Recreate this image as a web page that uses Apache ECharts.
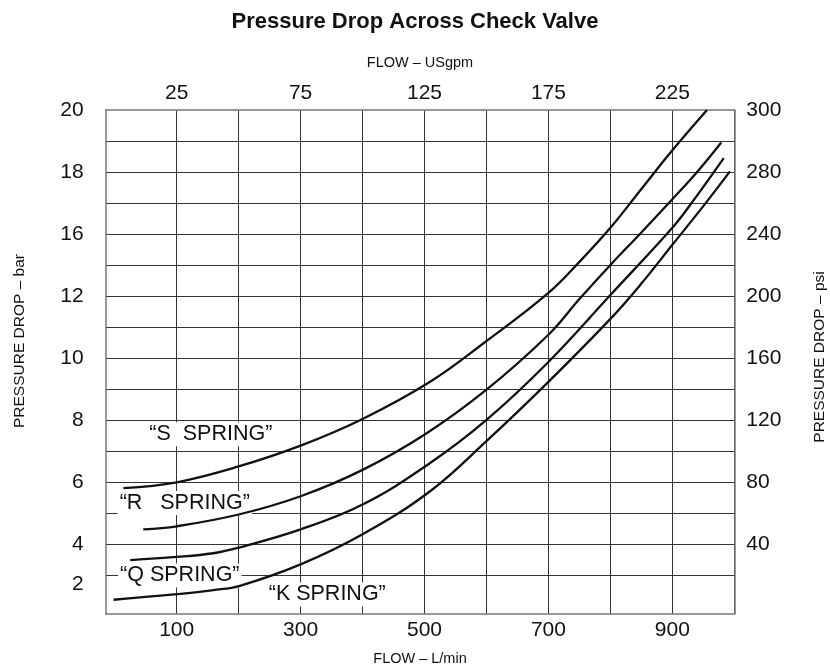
<!DOCTYPE html>
<html>
<head>
<meta charset="utf-8">
<title>Pressure Drop Across Check Valve</title>
<script src="https://cdn.jsdelivr.net/npm/echarts@6/dist/echarts.min.js"></script>
<style>
  html, body { margin: 0; padding: 0; background: #fff; }
  #chart { width: 830px; height: 671px; }
</style>
</head>
<body>
<div id="chart"></div>
<script>
// flow in L/min, pressure drop in bar (scale of the lower labels)
var flowS = [14, 100, 200, 300, 400, 509, 599, 700, 750, 800, 850, 900, 956];
var dropS = [5.8, 5.99, 6.5, 7.17, 8.03, 9.23, 10.53, 12.1, 13.1, 14.2, 15.45, 16.7, 18.0];

var flowR = [46, 100, 200, 300, 400, 501, 599, 700, 750, 800, 850, 900, 940, 979];
var dropR = [4.47, 4.57, 4.95, 5.54, 6.39, 7.54, 8.96, 10.75, 11.9, 13.0, 14.05, 15.12, 16.0, 16.95];

var flowQ = [25, 100, 159, 200, 300, 400, 509, 600, 700, 800, 900, 931, 983];
var dropQ = [3.48, 3.58, 3.7, 3.88, 4.47, 5.27, 6.61, 8.0, 9.87, 12.03, 14.2, 15.0, 16.45];

var flowK = [-2, 100, 159, 202, 300, 400, 509, 599, 700, 800, 850, 900, 950, 993];
var dropK = [2.2, 2.38, 2.51, 2.65, 3.34, 4.31, 5.7, 7.3, 9.23, 11.26, 12.4, 13.65, 14.9, 16.02];

var springNames = ['\u201cS  SPRING\u201d', '\u201cR   SPRING\u201d', '\u201cQ SPRING\u201d', '\u201cK SPRING\u201d'];

// axis ticks and labels
var flowGrid = [100, 200, 300, 400, 500, 600, 700, 800, 900, 1000];
var flowTicks = [100, 300, 500, 700, 900];
var gpmTicks = [25, 75, 125, 175, 225];
var dropGrid = [3, 4, 5, 6, 7, 8, 9, 10, 11, 12, 13, 14, 15, 16, 17];
var barTickVals = [18, 16, 14, 12, 10, 8, 6, 4, 2.7];
var barLabels = ['20', '18', '16', '12', '10', '8', '6', '4', '2'];
var psiTickVals = [18, 16, 14, 12, 10, 8, 6, 4];
var psiLabels = ['300', '280', '240', '200', '160', '120', '80', '40'];

var FONT = '"Liberation Sans", Arial, Helvetica, sans-serif';
var INK = '#111';

function pick(vals, labels) {
  return function (v) {
    for (var i = 0; i < vals.length; i++) {
      if (Math.abs(vals[i] - v) < 1e-6) return labels[i];
    }
    return '';
  };
}

function zipPts(xs, ys) {
  return xs.map(function (x, i) { return [x, ys[i]]; });
}

function springSeries(name, xs, ys, labelAt) {
  return {
    name: name,
    type: 'line',
    smooth: 0.4,
    symbol: 'none',
    clip: true,
    z: 3,
    lineStyle: { color: INK, width: 2.3 },
    data: zipPts(xs, ys),
    markPoint: {
      z: 1,
      symbol: 'rect',
      symbolSize: 1,
      itemStyle: { color: 'rgba(0,0,0,0)' },
      label: {
        show: true,
        position: 'inside',
        formatter: name,
        fontFamily: FONT,
        fontSize: 21.5,
        color: INK,
        backgroundColor: '#fff',
        padding: [1, 2, 1, 2]
      },
      data: [{ coord: labelAt }]
    }
  };
}

var chart = echarts.init(document.getElementById('chart'));

var option = {
  backgroundColor: '#fff',
  animation: false,
  title: {
    text: 'Pressure Drop Across Check Valve',
    left: 'center',
    top: 6,
    textStyle: { fontFamily: FONT, fontSize: 22, fontWeight: 'bold', color: INK }
  },
  grid: { left: 105.7, right: 95.7, top: 110, bottom: 54.3 },
  xAxis: [
    {
      type: 'value',
      position: 'bottom',
      min: -14.6,
      max: 1000,
      name: 'FLOW \u2013 L/min',
      nameLocation: 'middle',
      nameGap: 37,
      nameTextStyle: { fontFamily: FONT, fontSize: 14.5, color: INK },
      axisLine: { onZero: false, lineStyle: { color: '#777', width: 1.5 } },
      axisTick: { show: false, customValues: flowGrid },
      axisLabel: { customValues: flowTicks, fontFamily: FONT, fontSize: 21, color: INK, margin: 6 },
      splitLine: { show: true, lineStyle: { color: '#333', width: 1 } }
    },
    {
      type: 'value',
      position: 'top',
      min: -3.65,
      max: 250,
      name: 'FLOW \u2013 USgpm',
      nameLocation: 'middle',
      nameGap: 40,
      nameTextStyle: { fontFamily: FONT, fontSize: 14.5, color: INK },
      axisLine: { onZero: false, lineStyle: { color: '#777', width: 1.5 } },
      axisTick: { show: false },
      axisLabel: { customValues: gpmTicks, fontFamily: FONT, fontSize: 21, color: INK, margin: 6 },
      splitLine: { show: false }
    }
  ],
  yAxis: [
    {
      type: 'value',
      position: 'left',
      min: 1.74,
      max: 18,
      axisLine: { show: true, onZero: false, lineStyle: { color: '#777', width: 1.5 } },
      axisTick: { show: false, customValues: dropGrid },
      axisLabel: {
        customValues: barTickVals,
        formatter: pick(barTickVals, barLabels),
        fontFamily: FONT, fontSize: 21, color: INK, margin: 22
      },
      splitLine: { show: true, lineStyle: { color: '#333', width: 1 } }
    },
    {
      type: 'value',
      position: 'right',
      min: 1.74,
      max: 18,
      axisLine: { show: true, onZero: false, lineStyle: { color: '#777', width: 1.5 } },
      axisTick: { show: false },
      axisLabel: {
        customValues: psiTickVals,
        formatter: pick(psiTickVals, psiLabels),
        fontFamily: FONT, fontSize: 21, color: INK, margin: 12
      },
      splitLine: { show: false }
    }
  ],
  graphic: [
    {
      type: 'text', x: 20, y: 341, rotation: Math.PI / 2,
      style: { text: 'PRESSURE DROP \u2013 bar', font: '15.5px ' + FONT, fill: INK, align: 'center', verticalAlign: 'middle' }
    },
    {
      type: 'text', x: 820, y: 357, rotation: Math.PI / 2,
      style: { text: 'PRESSURE DROP \u2013 psi', font: '15.5px ' + FONT, fill: INK, align: 'center', verticalAlign: 'middle' }
    }
  ],
  series: [
    springSeries(springNames[0], flowS, dropS, [155, 7.54]),
    springSeries(springNames[1], flowR, dropR, [113, 5.32]),
    springSeries(springNames[2], flowQ, dropQ, [105, 2.98]),
    springSeries(springNames[3], flowK, dropK, [343, 2.37])
  ]
};

chart.setOption(option);
</script>
</body>
</html>
